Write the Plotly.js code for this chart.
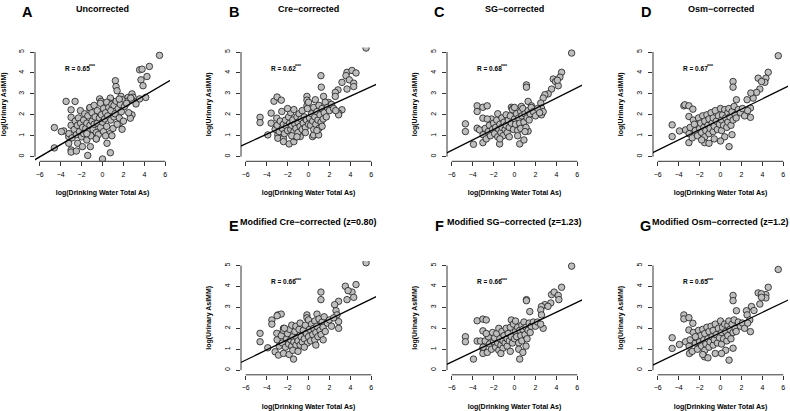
<!DOCTYPE html>
<html>
<head>
<meta charset="utf-8">
<script src="https://cdn.plot.ly/plotly-3.0.1.min.js"></script>
<style>html,body{margin:0;padding:0;background:#fff;}#chart{width:790px;height:411px;}</style>
</head>
<body>
<div id="chart"></div>
<script>
// ---------------- DATA ----------------
const letters = ['A','B','C','D','E','F','G'];
const titles = ['Uncorrected','Cre\u2212corrected','SG\u2212corrected','Osm\u2212corrected',
  'Modified Cre\u2212corrected (z=0.80)','Modified SG\u2212corrected (z=1.23)','Modified Osm\u2212corrected (z=1.2)'];
const rValues = ['0.65','0.62','0.68','0.67','0.66','0.66','0.65'];
const fitIntercepts = [1.75, 1.98, 1.80, 1.78, 1.94, 1.82, 1.80];
const fitSlopes = [0.293, 0.2275, 0.2506, 0.245, 0.243, 0.2375, 0.24];
const xTickVals = [-6,-4,-2,0,2,4,6];
const yTickVals = [0,1,2,3,4,5];
const xTitle = 'log(Drinking Water Total As)';
const yTitle = 'log(Urinary AsIMM)';

const xA = [5.45,4.48,3.55,3.78,4.25,3.68,3.87,4.13,3.55,3.2,1.23,1.29,1.39,2.82,2.92,2.44,1.77,2.34,1.87,2.76,-0.27,-0.14,0.75,0.66,-3.48,-2.62,-3.0,-2.11,-3.0,-1.22,-4.6,-3.7,-3.93,-3.23,-3.23,-4.6,-3.0,-3.0,-2.5,-2.37,-1.92,-1.41,-1.16,-0.59,0.0,0.43,0.75,1.87,2.82,2.66,1.71,
 -3.2,-3.0,-2.9,-2.7,-2.6,-2.5,-2.4,-2.3,-2.2,-2.1,-2.0,-1.9,-1.8,-1.8,-1.7,-1.6,-1.5,-1.5,-1.4,-1.3,-1.2,-1.2,-1.1,-1.0,-1.0,-0.9,-0.8,-0.8,-0.7,-0.6,-0.5,-0.5,-0.4,-0.3,-0.2,-0.2,-0.1,0.0,0.1,0.1,0.2,0.3,0.4,0.4,0.5,0.6,0.7,0.8,0.8,0.9,1.0,1.1,1.1,1.2,1.3,1.4,1.5,1.6,1.7,1.8,2.0,2.1,2.3,2.5,2.7,-0.6,0.3,-1.5,0.9,1.6];
const yA = [4.84,4.31,4.15,4.18,3.83,3.67,3.39,2.83,2.76,2.52,3.63,3.35,3.15,3.0,2.84,2.83,2.88,2.64,2.72,2.72,2.76,2.64,2.8,2.56,2.64,2.64,2.24,2.2,1.88,2.32,1.39,1.23,1.2,0.96,0.64,0.42,0.32,0.22,0.27,0.64,0.48,0.06,0.48,0.85,-0.11,0.64,0.19,1.31,2.0,1.84,1.63,
 1.1,1.5,0.9,1.3,1.7,1.05,1.5,1.85,1.2,1.6,0.95,1.4,1.75,1.1,2.05,1.35,0.8,1.6,1.95,1.25,2.35,1.5,1.0,1.7,2.1,1.3,2.45,1.55,1.9,1.15,2.2,1.6,1.05,1.85,2.55,1.4,2.0,1.65,2.3,1.2,1.8,2.1,1.45,2.6,1.95,2.35,1.1,1.75,2.2,2.5,1.35,1.9,2.45,2.05,2.65,1.55,2.3,1.85,2.5,2.15,1.7,2.4,2.55,2.1,2.8,0.85,1.0,1.1,1.0,2.75];

const xB = [5.5,3.68,4.16,4.54,3.58,3.9,4.32,4.32,3.68,3.2,2.82,2.56,2.56,1.19,1.22,1.44,0.65,-0.15,-0.15,-0.15,1.92,3.2,2.88,2.88,2.3,-4.63,-4.63,-3.89,-3.3,-3.0,-2.6,-2.55,-3.57,-3.57,-3.03,-3.19,-2.93,-2.93,-2.39,-2.39,-1.85,-1.4,-1.27,-0.79,0.39,0.49,0.97,
 -3.0,-2.8,-2.7,-2.5,-2.4,-2.3,-2.2,-2.1,-2.0,-1.9,-1.8,-1.7,-1.7,-1.6,-1.5,-1.4,-1.4,-1.3,-1.2,-1.1,-1.0,-1.0,-0.9,-0.8,-0.7,-0.6,-0.6,-0.5,-0.4,-0.3,-0.2,-0.1,0.0,0.0,0.1,0.2,0.3,0.4,0.5,0.5,0.6,0.7,0.8,0.9,1.0,1.0,1.1,1.2,1.3,1.4,1.5,1.6,1.7,1.8,2.0,2.2,2.4,2.6,-1.6,-0.3,0.8,1.3,-2.0,-1.1];
const yB = [5.19,4.03,4.12,4.0,3.87,3.67,3.51,3.35,3.23,3.55,3.19,3.07,2.88,3.87,3.32,2.88,2.72,2.88,2.7,2.43,2.59,2.24,2.08,2.0,2.3,1.88,1.63,1.04,2.65,2.85,2.7,2.16,2.08,1.6,1.84,1.31,1.04,0.88,0.88,0.72,0.61,0.72,0.96,0.96,0.96,1.04,1.04,
 1.5,1.2,1.7,1.35,1.55,1.1,1.75,1.45,1.25,1.9,1.6,1.3,2.1,1.5,1.75,1.2,2.25,1.55,1.35,1.9,1.65,1.15,2.05,1.45,1.8,1.3,2.2,1.6,1.9,1.4,1.75,2.3,1.55,2.6,1.85,1.5,2.05,1.7,2.35,1.3,1.9,1.55,2.15,1.75,2.45,1.35,2.0,1.65,2.3,1.8,2.1,2.6,1.9,2.35,2.2,2.5,2.3,2.2,1.0,1.15,1.25,1.45,2.3,0.95];

const xC = [5.46,4.5,4.34,3.7,3.92,4.18,4.1,3.54,3.22,2.9,2.74,2.51,2.58,2.58,2.74,1.14,1.14,1.3,1.62,-0.3,-0.14,0.66,-4.69,-4.69,-3.92,-3.02,-3.57,-3.57,-3.02,-2.61,-3.02,-3.57,-3.34,-1.42,0.5,1.3,
 -3.0,-2.8,-2.7,-2.5,-2.4,-2.3,-2.2,-2.1,-2.0,-1.9,-1.8,-1.7,-1.6,-1.6,-1.5,-1.4,-1.3,-1.2,-1.2,-1.1,-1.0,-0.9,-0.8,-0.8,-0.7,-0.6,-0.5,-0.4,-0.3,-0.2,-0.1,0.0,0.0,0.1,0.2,0.3,0.4,0.5,0.6,0.6,0.7,0.8,0.9,1.0,1.1,1.2,1.3,1.4,1.5,1.6,1.8,2.0,2.2,2.4,-1.4,-0.5,0.3,1.0,-2.6,0.9];
const yC = [4.95,4.03,3.8,3.71,3.59,3.39,3.65,3.23,3.0,2.96,2.8,2.56,2.32,2.0,2.15,3.43,3.32,2.64,2.43,2.36,2.32,2.4,1.57,1.2,0.59,0.67,2.43,2.16,2.36,2.43,1.84,1.36,1.28,0.61,0.61,1.22,
 1.05,1.35,0.85,1.2,1.5,1.0,1.8,1.3,1.6,1.1,1.4,1.75,0.95,2.05,1.3,1.55,1.15,1.85,1.4,1.0,1.65,1.3,2.0,1.5,1.15,1.75,1.4,1.95,1.6,2.25,1.3,1.8,2.35,1.55,2.05,1.25,1.85,1.6,2.15,1.35,1.95,2.3,1.65,2.05,1.4,1.85,2.2,1.75,2.05,2.35,2.15,1.95,2.3,2.1,0.85,0.95,1.0,1.2,1.8,0.8];

const xD = [5.52,4.56,4.34,4.24,3.6,3.92,3.76,3.44,3.12,2.9,2.54,2.86,2.86,1.2,1.2,1.52,0.82,-4.62,-4.62,-3.92,-3.5,-3.4,-3.02,-2.64,-3.02,-3.34,-3.02,-1.52,-1.1,
 -3.0,-2.9,-2.7,-2.6,-2.4,-2.3,-2.2,-2.1,-2.0,-1.9,-1.8,-1.7,-1.6,-1.5,-1.5,-1.4,-1.3,-1.2,-1.1,-1.1,-1.0,-0.9,-0.8,-0.7,-0.7,-0.6,-0.5,-0.4,-0.3,-0.2,-0.1,0.0,0.1,0.1,0.2,0.3,0.4,0.5,0.6,0.7,0.7,0.8,0.9,1.0,1.1,1.2,1.3,1.4,1.5,1.7,1.9,2.1,2.3,2.6,-1.8,-0.6,0.4,1.1,-2.5,0.0];
const yD = [4.82,4.03,3.75,3.55,3.75,3.59,3.23,3.07,2.8,3.04,2.72,2.32,1.88,3.59,3.32,2.72,0.48,1.52,0.96,1.23,2.43,2.48,2.43,2.27,1.92,1.28,0.67,0.67,0.64,
 1.1,1.4,0.9,1.75,1.25,1.55,1.0,1.85,1.35,1.6,1.15,1.95,1.4,0.95,1.7,1.25,2.0,1.5,1.1,1.8,1.35,2.1,1.6,1.2,1.85,1.45,2.2,1.7,1.3,1.95,1.55,2.3,1.75,1.25,2.0,1.5,2.25,1.85,1.4,2.1,1.65,2.3,1.9,1.5,2.15,1.75,2.4,2.0,1.85,2.25,2.1,2.3,1.95,2.2,0.8,0.85,0.95,1.05,1.55,0.75];

const xE = [5.5,4.54,3.52,4.16,3.78,4.32,3.68,2.88,2.5,2.63,2.72,2.88,2.88,1.19,1.19,0.81,-0.15,-0.15,-4.63,-4.63,-3.89,-3.5,-3.5,-2.93,-2.61,-3.0,-2.39,-3.03,-3.19,-2.87,-2.39,-1.85,-1.43,
 -3.0,-2.8,-2.6,-2.5,-2.4,-2.2,-2.1,-2.0,-1.9,-1.8,-1.7,-1.6,-1.6,-1.5,-1.4,-1.3,-1.2,-1.2,-1.1,-1.0,-0.9,-0.8,-0.8,-0.7,-0.6,-0.5,-0.4,-0.3,-0.2,-0.1,0.0,0.0,0.1,0.2,0.3,0.4,0.5,0.6,0.6,0.7,0.8,0.9,1.0,1.1,1.2,1.3,1.4,1.5,1.6,1.8,2.0,2.2,2.4,-1.5,-0.4,0.7,1.4,-2.3,-1.0];
const yE = [5.13,4.09,4.01,3.73,3.8,3.48,3.37,3.29,3.13,2.84,2.64,2.32,2.0,3.73,3.37,2.68,2.64,2.5,1.76,1.36,1.07,2.4,2.2,2.64,2.68,2.6,2.0,1.76,0.88,0.72,0.8,0.75,0.53,
 1.45,1.15,1.65,1.3,1.9,1.1,1.5,1.75,1.25,1.95,1.45,1.15,2.15,1.6,1.35,1.85,1.2,2.1,1.55,1.4,1.95,1.2,2.25,1.6,1.35,1.9,1.5,2.15,1.75,1.3,2.4,1.6,1.95,1.4,2.2,1.7,2.0,1.45,2.35,1.8,2.1,1.6,2.45,1.9,1.7,2.3,2.05,2.55,1.85,2.25,2.4,2.1,2.5,0.95,1.1,1.2,1.45,2.0,0.9];

const xF = [5.46,4.5,3.54,3.79,4.18,4.24,3.47,2.9,2.58,2.51,2.58,2.74,3.2,1.14,1.14,1.46,-0.3,-4.69,-4.69,-3.92,-3.57,-3.02,-2.7,-3.02,-3.57,-3.25,-3.02,-3.02,0.5,
 -3.0,-2.8,-2.6,-2.5,-2.4,-2.2,-2.1,-2.0,-1.9,-1.8,-1.7,-1.6,-1.5,-1.5,-1.4,-1.3,-1.2,-1.1,-1.1,-1.0,-0.9,-0.8,-0.7,-0.7,-0.6,-0.5,-0.4,-0.3,-0.2,-0.1,0.0,0.1,0.1,0.2,0.3,0.4,0.5,0.6,0.7,0.7,0.8,0.9,1.0,1.1,1.2,1.3,1.4,1.5,1.6,1.8,2.0,2.2,2.5,-1.3,-0.4,0.4,1.1,-2.7,0.8];
const yF = [4.97,3.96,3.61,3.73,3.57,3.37,3.21,3.13,3.04,2.88,2.64,2.0,3.05,3.37,3.32,2.8,2.4,1.6,1.36,0.53,2.36,2.44,2.4,1.88,1.39,1.39,1.04,0.8,0.53,
 1.1,1.4,0.85,1.6,1.25,1.0,1.8,1.35,1.55,1.1,1.75,1.3,0.95,2.0,1.5,1.2,1.85,1.4,1.05,1.65,1.3,2.0,1.5,1.15,1.75,1.4,2.05,1.6,1.3,2.2,1.5,1.85,2.35,1.6,2.05,1.3,1.9,1.65,2.15,1.4,1.95,2.3,1.7,2.05,1.5,1.9,2.25,1.8,2.1,2.3,2.1,2.3,2.2,0.8,0.9,1.0,1.15,1.75,0.85];

const xG = [5.52,4.56,4.34,4.34,3.6,3.9,3.92,3.76,2.96,2.48,2.54,2.8,2.86,3.2,1.2,1.2,1.52,0.82,-4.62,-4.62,-3.92,-3.5,-3.5,-3.02,-2.64,-3.02,-3.34,-2.96,-1.52,-1.2,
 -3.0,-2.9,-2.7,-2.6,-2.4,-2.3,-2.2,-2.1,-2.0,-1.9,-1.8,-1.7,-1.6,-1.5,-1.5,-1.4,-1.3,-1.2,-1.1,-1.1,-1.0,-0.9,-0.8,-0.7,-0.7,-0.6,-0.5,-0.4,-0.3,-0.2,-0.1,0.0,0.1,0.1,0.2,0.3,0.4,0.5,0.6,0.7,0.7,0.8,0.9,1.0,1.1,1.2,1.3,1.4,1.5,1.7,1.9,2.1,2.3,2.6,-1.7,-0.5,0.5,1.2,-2.4,0.1];
const yG = [4.81,3.96,3.61,3.45,3.69,3.65,3.48,3.16,3.04,2.84,2.64,2.4,1.84,2.85,3.57,3.32,2.84,0.48,1.55,1.04,1.23,2.64,2.45,2.51,2.24,1.92,1.36,0.8,0.64,0.59,
 1.15,1.45,0.9,1.8,1.3,1.55,1.0,1.9,1.35,1.65,1.15,1.95,1.45,0.95,1.75,1.25,2.05,1.5,1.1,1.85,1.35,2.1,1.6,1.2,1.9,1.45,2.2,1.7,1.3,2.0,1.55,2.35,1.8,1.25,2.05,1.5,2.2,1.85,1.4,2.15,1.65,2.35,1.95,1.5,2.2,1.8,2.4,2.0,1.85,2.3,2.1,2.25,2.0,2.25,0.75,0.8,0.95,1.05,1.6,0.8];

const xData = [xA,xB,xC,xD,xE,xF,xG];
const yData = [yA,yB,yC,yD,yE,yF,yG];

// ---------------- LAYOUT ----------------
const W = 790, H = 411;
const FONT = '"Liberation Sans", Arial, Helvetica, sans-serif';
const panelRow = [0,0,0,0,1,1,1];
const panelCol = [0,1,2,3,1,2,3];
const colLeft = [35, 241, 447, 653];
const rowTop = [47.4, 260.9];
const plotW = 135, plotH = 113.9;
const xRange = [-6.45, 6.45];
const yRange = [-0.22, 5.22];

const traces = [], annotations = [], shapes = [];
const layout = {
  width: W, height: H,
  margin: {l:0, r:0, t:0, b:0},
  paper_bgcolor: '#fff', plot_bgcolor: '#fff',
  showlegend: false,
  font: {family: FONT, color: '#000', size: 7}
};

for (let i = 0; i < 7; i++) {
  const n = i + 1;
  const sfx = n === 1 ? '' : String(n);
  const xr = 'x' + sfx, yr = 'y' + sfx;
  const left = colLeft[panelCol[i]], top = rowTop[panelRow[i]];
  const dx = [left / W, (left + plotW) / W];
  const dy = [1 - (top + plotH) / H, 1 - top / H];

  layout['xaxis' + sfx] = {
    domain: dx, anchor: yr, range: xRange, tickvals: xTickVals,
    ticks: 'outside', ticklen: 4, tickwidth: 0.8, tickcolor: '#000', ticklabelstandoff: 2,
    showline: false, showgrid: false, zeroline: false, fixedrange: true,
    tickfont: {size: 7, family: FONT, color: '#000'},
    title: {text: xTitle, font: {size: 7, family: FONT, weight: 'bold', color: '#000'}, standoff: 13},
    automargin: true
  };
  layout['yaxis' + sfx] = {
    domain: dy, anchor: xr, range: yRange, tickvals: yTickVals,
    ticks: 'outside', ticklen: 4, tickwidth: 0.8, tickcolor: '#000', tickangle: -90, ticklabelstandoff: 3,
    showline: false, showgrid: false, zeroline: false, fixedrange: true,
    tickfont: {size: 7, family: FONT, color: '#000'},
    title: {text: yTitle, font: {size: 7, family: FONT, weight: 'bold', color: '#000'}, standoff: 11},
    automargin: true
  };

  // axis lines spanning first to last tick (R style)
  const pxPerX = plotW / (xRange[1] - xRange[0]);
  const pxPerY = plotH / (yRange[1] - yRange[0]);
  const bottom = top + plotH;
  const xl0 = left + (xTickVals[0] - xRange[0]) * pxPerX;
  const xl1 = left + (xTickVals[xTickVals.length-1] - xRange[0]) * pxPerX;
  const yl0 = bottom - (yTickVals[0] - yRange[0]) * pxPerY;
  const yl1 = bottom - (yTickVals[yTickVals.length-1] - yRange[0]) * pxPerY;
  shapes.push({type:'line', xref:'paper', yref:'paper', x0: xl0/W, x1: xl1/W, y0: 1-bottom/H, y1: 1-bottom/H, line:{color:'#000', width:0.8}});
  shapes.push({type:'line', xref:'paper', yref:'paper', x0: left/W, x1: left/W, y0: 1-yl0/H, y1: 1-yl1/H, line:{color:'#000', width:0.8}});

  traces.push({
    type: 'scatter', mode: 'markers', x: xData[i], y: yData[i], xaxis: xr, yaxis: yr,
    marker: {size: 6.5, color: '#BEBEBE', line: {color: '#1a1a1a', width: 0.8}},
    hoverinfo: 'skip'
  });
  traces.push({
    type: 'scatter', mode: 'lines', xaxis: xr, yaxis: yr,
    x: [xRange[0] - 1, xRange[1] + 1],
    y: [fitIntercepts[i] + fitSlopes[i]*(xRange[0]-1), fitIntercepts[i] + fitSlopes[i]*(xRange[1]+1)],
    line: {color: '#000', width: 1.3}, hoverinfo: 'skip'
  });

  const rowOff = panelRow[i] === 0 ? 0 : 213.5;
  // panel title
  annotations.push({xref:'paper', yref:'paper', x: (left + plotW/2)/W, y: 1 - (9 + rowOff)/H,
    text: titles[i], showarrow: false, xanchor: 'center', yanchor: 'middle',
    font: {size: 9, family: FONT, weight: 'bold', color: '#000'}});
  // panel letter
  annotations.push({xref:'paper', yref:'paper', x: (left - 7.5)/W, y: 1 - (12 + rowOff)/H,
    text: letters[i], showarrow: false, xanchor: 'center', yanchor: 'middle',
    font: {size: 14.5, family: FONT, weight: 'bold', color: '#000'}});
  // R annotation (text + significance stars)
  const rX = -3.75, rY = 4.22;
  annotations.push({xref: xr, yref: yr, x: rX, y: rY,
    text: 'R = ' + rValues[i], showarrow: false, xanchor: 'left', yanchor: 'middle',
    font: {size: 6.5, family: FONT, weight: 'bold', color: '#000'}});
  annotations.push({xref: xr, yref: yr, x: rX + 2.3, y: rY + 0.1,
    text: '***', showarrow: false, xanchor: 'left', yanchor: 'middle',
    font: {size: 5, family: FONT, weight: 'bold', color: '#000'}});
}
layout.annotations = annotations;
layout.shapes = shapes;

Plotly.newPlot('chart', traces, layout, {displayModeBar: false, staticPlot: true});
</script>
</body>
</html>
